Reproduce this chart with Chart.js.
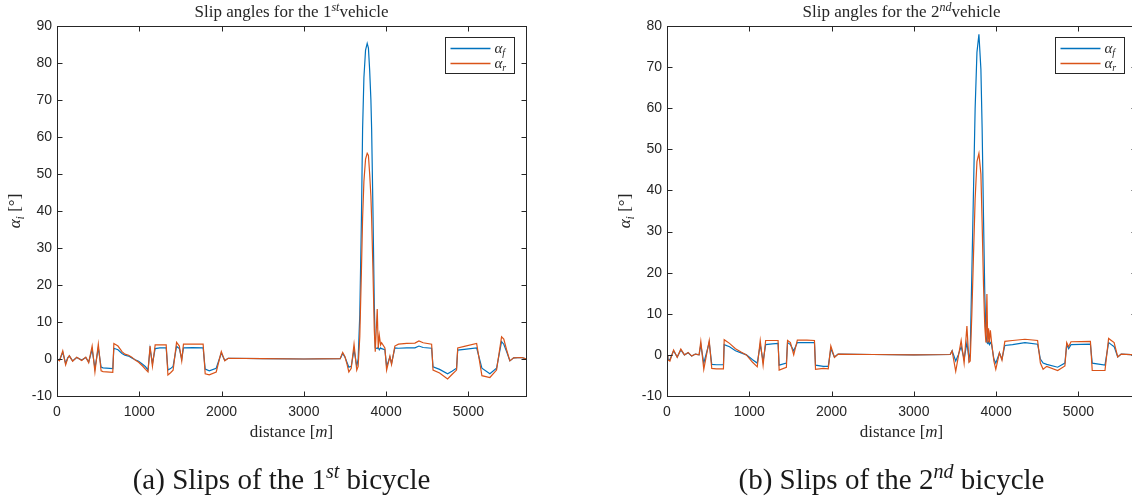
<!DOCTYPE html>
<html lang="en">
<head>
<meta charset="UTF-8">
<title>Slip angles</title>
<script src="https://cdn.jsdelivr.net/npm/chart.js"></script>
<style>
  html, body { margin: 0; padding: 0; background: #fff; overflow: hidden; }
  body { width: 1132px; height: 499px; position: relative; }
  canvas { position: absolute; top: 0; }
  #chart1 { left: 0; }
  #chart2 { left: 600px; }
</style>
</head>
<body>
<canvas id="chart1" width="560" height="499"></canvas>
<canvas id="chart2" width="540" height="499"></canvas>
<script>
// tick values
const X_TICKS = [0, 1000, 2000, 3000, 4000, 5000];
const Y_TICKS_1 = [-10, 0, 10, 20, 30, 40, 50, 60, 70, 80, 90];
const Y_TICKS_2 = [-10, 0, 10, 20, 30, 40, 50, 60, 70, 80];

// vehicle 1: distance [m], front slip, rear slip [deg]
const DIST_1 = [0, 30, 70, 105, 130, 150, 190, 240, 300, 350, 385, 427, 461, 502, 536, 560, 678, 691, 741, 790,
  825, 870, 909, 950, 992, 1040, 1076, 1106, 1131, 1160, 1193, 1250, 1327, 1348, 1380, 1411, 1453, 1487, 1516, 1537,
  1650, 1776, 1801, 1851, 1935, 1997, 2039, 2081, 2500, 3000, 3442, 3472, 3500, 3526, 3547, 3576, 3610, 3643, 3660, 3680,
  3700, 3714, 3730, 3750, 3770, 3785, 3800, 3815, 3824, 3840, 3856, 3868, 3892, 3904, 3917, 3933, 3945, 3985, 4006, 4046,
  4066, 4106, 4150, 4250, 4350, 4399, 4450, 4553, 4570, 4650, 4747, 4800, 4856, 4870, 4950, 5100, 5164, 5261, 5342, 5403,
  5430, 5464, 5504, 5550, 5650, 5700];
const FRONT_1 = [0, -0.3, 1.8, -1.2, 0.3, 0.8, -0.5, 0.4, -0.3, 0.4, -0.8, 2.6, -2.5, 3.0, -2.2, -2.4, -2.6, 2.9, 2.5, 1.5,
  1.0, 0.8, 0.3, -0.2, -0.6, -1.4, -2.1, -3.0, 2.8, -1.2, 2.8, 3.0, 3.0, -3.0, -2.6, -2.0, 3.4, 2.8, 0.0, 3.0,
  3.1, 3.0, -2.7, -3.2, -2.5, 1.6, -0.4, 0.2, 0.1, 0.0, 0.1, 1.5, 0.5, -1.0, -2.2, -2.0, 2.5, -2.0, 0.0, 12,
  38, 62, 76, 83.5, 85.3, 84, 78, 70, 62, 40, 15, 3, 2.8, 3.2, 2.5, 3.0, 2.8, 2.5, -2.0, 0.5,
  -1.2, 3.0, 2.9, 3.0, 3.0, 3.5, 3.1, 2.9, -2.1, -2.8, -4.0, -3.3, -2.5, 2.4, 2.6, 3.0, -2.5, -4.0, -2.5, 4.7,
  4.0, 2.0, -0.5, 0.3, 0.4, 0.0];
const REAR_1 = [0, -0.5, 2.2, -1.6, 0.2, 0.9, -0.6, 0.5, -0.4, 0.5, -1.0, 3.5, -3.5, 4.0, -3.2, -3.4, -3.6, 4.2, 3.5, 2.0,
  1.3, 1.0, 0.5, -0.3, -0.9, -1.9, -2.8, -3.5, 3.5, -2.0, 3.8, 3.8, 3.8, -4.3, -3.7, -3.0, 4.5, 3.5, -0.5, 4.0,
  4.0, 4.0, -4.0, -4.3, -3.5, 2.0, -0.5, 0.2, 0.1, 0.0, 0.1, 1.8, 0.6, -1.5, -3.5, -2.5, 4.0, -3.0, -2.0, 6,
  24, 38, 48, 54, 55.6, 55, 50, 44, 38, 24, 8, 2, 13.5, 2.9, 6.4, 3.8, 4.4, 3.0, -3.0, 0.8,
  -1.5, 3.5, 4.0, 4.2, 4.3, 4.9, 4.4, 4.0, -3.0, -3.8, -5.4, -4.2, -3.0, 3.0, 3.4, 4.2, -4.5, -5.0, -3.0, 6.0,
  5.4, 2.5, -0.5, 0.3, 0.4, 0.0];

// vehicle 2
const DIST_2 = [0, 10, 35, 80, 124, 168, 212, 257, 300, 345, 390, 411, 447, 513, 544, 600, 686, 695, 760, 832,
  900, 965, 1040, 1097, 1133, 1168, 1199, 1280, 1350, 1363, 1451, 1465, 1500, 1540, 1584, 1700, 1792, 1805, 1900, 1960,
  1991, 2035, 2080, 2500, 3000, 3442, 3465, 3509, 3540, 3575, 3611, 3645, 3670, 3685, 3705, 3726, 3745, 3767, 3791, 3815,
  3830, 3847, 3862, 3876, 3888, 3898, 3908, 3918, 3930, 3945, 3973, 3996, 4040, 4071, 4106, 4200, 4350, 4504, 4538, 4571,
  4615, 4748, 4836, 4858, 4881, 4910, 5146, 5168, 5323, 5367, 5400, 5434, 5478, 5520, 5700];
const FRONT_2 = [0, -1.0, -1.2, 1.0, -0.5, 1.2, 0.0, 0.5, -0.3, 0.2, 0.0, 2.5, -2.0, 3.0, -2.3, -2.4, -2.4, 2.5, 2.0, 1.0,
  0.5, 0.0, -1.2, -2.0, 2.5, -1.5, 2.5, 2.7, 2.8, -2.5, -2.0, 3.0, 2.5, 1.0, 3.0, 3.0, 3.0, -2.5, -2.8, -2.8,
  1.5, -0.5, 0.2, 0.1, 0.0, 0.1, 1.0, -1.5, 0.0, 2.0, -1.0, 3.0, -1.0, 0.6, 20, 41, 60, 73.6, 78, 69.5,
  55, 33, 15, 5, 3.0, 2.8, 3.2, 2.5, 3.0, 2.5, -1.0, -2.0, 0.5, -1.0, 2.3, 2.5, 3.0, 2.6, -1.0, -2.0,
  -2.3, -3.0, -2.0, 2.5, 1.5, 2.5, 2.6, -2.0, -2.5, 3.0, 2.5, 2.0, -0.5, 0.2, 0.0];
const REAR_2 = [0, -1.2, -1.5, 1.2, -0.6, 1.4, 0.0, 0.6, -0.3, 0.2, 0.0, 3.3, -3.5, 3.5, -3.3, -3.4, -3.4, 3.7, 2.8, 1.5,
  0.7, 0.0, -1.8, -2.9, 3.5, -2.5, 3.5, 3.5, 3.5, -3.7, -3.0, 3.5, 3.0, 0.0, 3.6, 3.6, 3.5, -3.5, -3.3, -3.4,
  2.2, -0.6, 0.2, 0.1, 0.0, 0.1, 1.0, -4.0, -0.5, 3.5, -2.0, 7.0, -1.8, -1.5, 10, 25, 38, 47, 49, 44,
  32, 16.8, 7, 3, 14.8, 3.0, 6.5, 3.0, 6.0, 3.0, -1.5, -3.5, 0.5, -1.3, 3.3, 3.5, 3.8, 3.5, -2.0, -3.5,
  -2.8, -3.8, -2.7, 3.0, 2.0, 3.2, 3.3, -3.8, -3.8, 4.0, 3.5, 3.0, -0.5, 0.2, 0.0];

const BLUE = '#0072BD';
const ORANGE = '#D95319';
const AXIS = '#262626';
const SERIF = '"Liberation Serif", "Times New Roman", serif';
const SANS = '"Liberation Sans", Arial, sans-serif';

// draws a run of text pieces (different fonts / raised or lowered) centred on x
function drawRich(ctx, parts, x, y) {
  let total = 0;
  parts.forEach(p => { ctx.font = p.font; p.w = ctx.measureText(p.text).width; total += p.w; });
  let cx = x - total / 2;
  parts.forEach(p => {
    ctx.font = p.font;
    ctx.fillText(p.text, cx, y + (p.dy || 0));
    cx += p.w;
  });
}

const reg = (s = 17) => s + 'px ' + SERIF;
const ital = s => 'italic ' + s + 'px ' + SERIF;

// box, inward ticks, title, axis labels, legend and sub-caption of each panel
const matlabFrame = {
  id: 'matlabFrame',
  afterDraw(chart, args, opts) {
    const { ctx, chartArea: a, scales } = chart;
    const L = Math.round(a.left) + 0.5, R = Math.round(a.right) + 0.5;
    const T = Math.round(a.top) + 0.5, B = Math.round(a.bottom) + 0.5;
    ctx.save();
    ctx.strokeStyle = AXIS;
    ctx.lineWidth = 1;
    ctx.strokeRect(L, T, R - L, B - T);
    const tl = 5;
    ctx.beginPath();
    scales.x.ticks.forEach(t => {
      const px = Math.round(scales.x.getPixelForValue(t.value)) + 0.5;
      ctx.moveTo(px, B); ctx.lineTo(px, B - tl);
      ctx.moveTo(px, T); ctx.lineTo(px, T + tl);
    });
    scales.y.ticks.forEach(t => {
      const py = Math.round(scales.y.getPixelForValue(t.value)) + 0.5;
      ctx.moveTo(L, py); ctx.lineTo(L + tl, py);
      ctx.moveTo(R, py); ctx.lineTo(R - tl, py);
    });
    ctx.stroke();

    ctx.fillStyle = AXIS;
    ctx.textBaseline = 'alphabetic';
    const midX = (a.left + a.right) / 2;
    // title
    drawRich(ctx, [
      { text: 'Slip angles for the ' + opts.ordinal, font: reg() },
      { text: opts.sup, font: ital(12), dy: -6 },
      { text: 'vehicle', font: reg() }
    ], midX, a.top - 9);
    // x label
    drawRich(ctx, [
      { text: 'distance [', font: reg() },
      { text: 'm', font: ital(17) },
      { text: ']', font: reg() }
    ], midX, a.bottom + 41);
    // y label
    ctx.save();
    ctx.translate(a.left - 37, (a.top + a.bottom) / 2);
    ctx.rotate(-Math.PI / 2);
    drawRich(ctx, [
      { text: 'α', font: ital(17) },
      { text: 'i', font: ital(12), dy: 4 },
      { text: ' [°]', font: reg() }
    ], 0, 0);
    ctx.restore();

    // legend
    const bw = 69, bh = 36;
    const bx = Math.round(a.right - 12 - bw) + 0.5, by = Math.round(a.top + 11) + 0.5;
    ctx.fillStyle = '#fff';
    ctx.fillRect(bx, by, bw, bh);
    ctx.strokeStyle = AXIS;
    ctx.strokeRect(bx, by, bw, bh);
    const items = [['f', BLUE], ['r', ORANGE]];
    items.forEach((it, i) => {
      const ly = by + 11 + i * 15;
      ctx.strokeStyle = it[1];
      ctx.lineWidth = 1.3;
      ctx.beginPath();
      ctx.moveTo(bx + 5, ly); ctx.lineTo(bx + 45, ly);
      ctx.stroke();
      ctx.fillStyle = AXIS;
      ctx.font = ital(15);
      ctx.fillText('α', bx + 49, ly + 4);
      const w = ctx.measureText('α').width;
      ctx.font = ital(10);
      ctx.fillText(it[0], bx + 49 + w, ly + 7);
    });

    // sub-caption under the panel
    ctx.fillStyle = '#1a1a1a';
    drawRich(ctx, [
      { text: opts.caption + opts.ordinal, font: reg(29) },
      { text: opts.sup, font: ital(20), dy: -11 },
      { text: ' bicycle', font: reg(29) }
    ], midX - 10, a.bottom + 93);
    ctx.restore();
  }
};

function makeChart(id, dist, front, rear, yTicks, yWidth, padRight, ordinal, sup, caption) {
  const pts = arr => dist.map((d, i) => ({ x: d, y: arr[i] }));
  return new Chart(document.getElementById(id), {
    type: 'line',
    data: {
      datasets: [
        { label: 'front', data: pts(front), borderColor: BLUE, order: 1 },
        { label: 'rear', data: pts(rear), borderColor: ORANGE, order: 0 }
      ]
    },
    options: {
      responsive: false,
      animation: false,
      devicePixelRatio: 1,
      layout: { padding: { left: 0, top: 26, right: padRight, bottom: 0 } },
      elements: { point: { radius: 0 }, line: { borderWidth: 1.2, tension: 0 } },
      plugins: {
        legend: { display: false },
        tooltip: { enabled: false },
        matlabFrame: { ordinal: ordinal, sup: sup, caption: caption }
      },
      scales: {
        x: {
          type: 'linear', min: 0, max: 5700,
          grid: { display: false, drawTicks: false },
          border: { display: false },
          afterBuildTicks: s => { s.ticks = X_TICKS.map(v => ({ value: v })); },
          afterFit: s => { s.height = 103; },
          ticks: { padding: 8, color: AXIS, font: { family: SANS, size: 14 }, maxRotation: 0, autoSkip: false,
                   callback: v => String(v) }
        },
        y: {
          type: 'linear', min: yTicks[0], max: yTicks[yTicks.length - 1],
          grid: { display: false, drawTicks: false },
          border: { display: false },
          afterBuildTicks: s => { s.ticks = yTicks.map(v => ({ value: v })); },
          afterFit: s => { s.width = yWidth; },
          ticks: { padding: 5, color: AXIS, font: { family: SANS, size: 14 }, autoSkip: false,
                   callback: v => String(v) }
        }
      }
    },
    plugins: [matlabFrame]
  });
}

makeChart('chart1', DIST_1, FRONT_1, REAR_1, Y_TICKS_1, 57, 34, '1', 'st', '(a) Slips of the ');
makeChart('chart2', DIST_2, FRONT_2, REAR_2, Y_TICKS_2, 67, 4, '2', 'nd', '(b) Slips of the ');
</script>
</body>
</html>
